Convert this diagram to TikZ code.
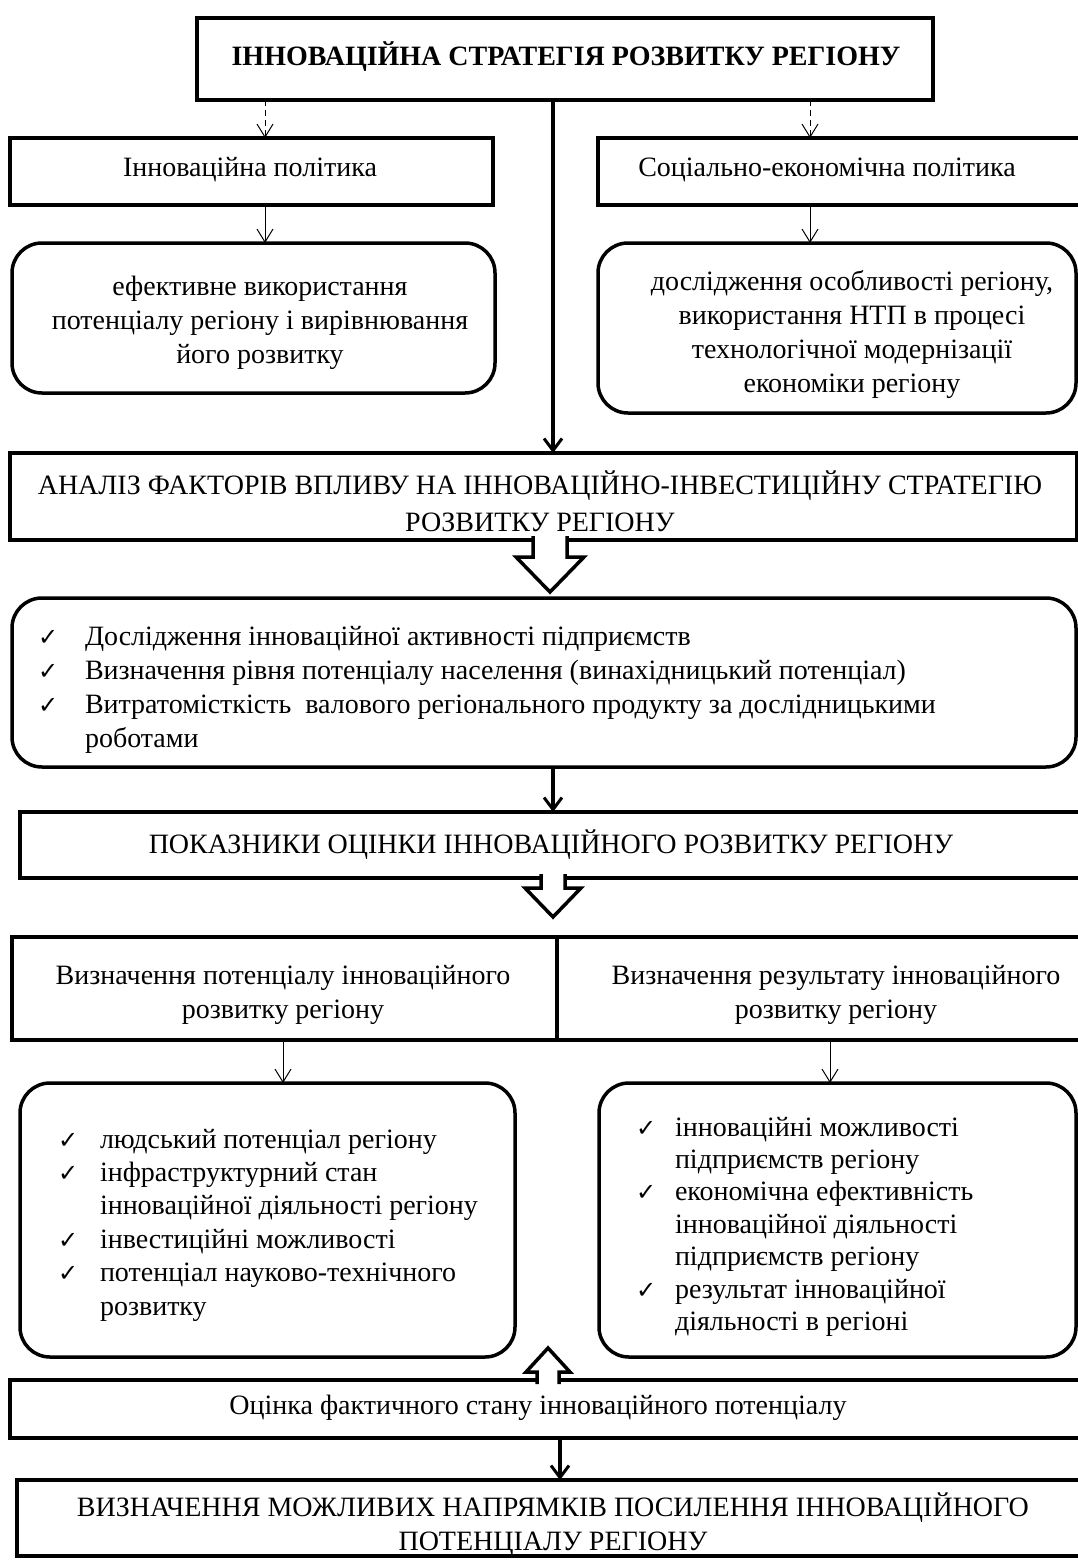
\documentclass[tikz,border=0pt]{standalone}
\usepackage{fontspec}
\setmainfont{Liberation Serif}
\newfontfamily\symfont{DejaVu Sans}
\usetikzlibrary{arrows.meta,calc}
\newcommand{\ck}{\makebox[0pt][l]{\symfont\fontsize{24}{24}\selectfont ✓}}
\begin{document}
\begin{tikzpicture}[x=1pt,y=-1pt,
  every node/.style={font=\fontsize{28}{34}\selectfont, inner sep=0pt, outer sep=0pt},
  box/.style={draw, line width=3.5pt, rectangle},
  rbox/.style={draw, line width=3.5pt, rectangle, rounded corners=30pt},
  thinarr/.style={line width=1pt, -{Straight Barb[length=13pt,width=16pt,line width=1pt]}},
  dasharr/.style={thinarr, dash pattern=on 6pt off 4pt},
  thickarr/.style={line width=3.5pt, -{Straight Barb[length=12pt,width=18pt,line width=3pt]}},
  hollow/.style={draw, line width=3.5pt, fill=white, line join=miter},
  txt/.style={align=center},
]
\clip (0,0) rectangle (1078,1560);
\fill[white] (0,0) rectangle (1078,1560);

% coordinates for arrow x-positions
\coordinate (xa) at (265,0);
\coordinate (xb) at (810,0);
\coordinate (xc) at (553,0);
\coordinate (xd) at (283,0);
\coordinate (xe) at (830,0);
\coordinate (xf) at (560,0);

% top
\node[box, minimum width=736pt, minimum height=82pt] (top) at (565,59) {};
\node[txt, font=\bfseries\fontsize{28}{34}\selectfont] (toptxt) at (566,57) {ІННОВАЦІЙНА СТРАТЕГІЯ РОЗВИТКУ РЕГІОНУ};

% policies
\node[box, minimum width=483pt, minimum height=67pt] (polL) at (251.5,171.5) {};
\node[txt] (polLtxt) at (250,170) {Інноваційна політика};
\node[box, minimum width=520pt, minimum height=67pt] (polR) at (858,171.5) {};
\node[txt] (polRtxt) at (827,170) {Соціально-економічна політика};

% rounded boxes under policies
\node[rbox, minimum width=483pt, minimum height=150pt] (rL) at (253.5,318) {};
\node[txt] (rLtxt) at (260,323) {ефективне використання\\потенціалу регіону і вирівнювання\\його розвитку};
\node[rbox, minimum width=478pt, minimum height=170pt] (rR) at (837,328) {};
\node[txt] (rRtxt) at (852,334) {дослідження особливості регіону,\\використання НТП в процесі\\технологічної модернізації\\економіки регіону};

% analysis
\node[box, minimum width=1067pt, minimum height=87pt] (anal) at (543.5,496.5) {};
\node[txt, font=\fontsize{28}{37}\selectfont] (analtxt) at (540,501) {АНАЛІЗ ФАКТОРІВ ВПЛИВУ НА ІННОВАЦІЙНО-ІНВЕСТИЦІЙНУ СТРАТЕГІЮ\\РОЗВИТКУ РЕГІОНУ};

% checklist
\node[rbox, minimum width=1064pt, minimum height=169pt] (chk) at (544,682.5) {};
\node[anchor=base west, align=left] (chktxt) at (38,645) {\begin{tabular}[t]{@{}l@{}}
\ck\hspace{47pt}Дослідження інноваційної активності підприємств\\
\ck\hspace{47pt}Визначення рівня потенціалу населення (винахідницький потенціал)\\
\ck\hspace{47pt}Витратомісткість\ \ валового регіонального продукту за дослідницькими\\
\hspace{47pt}роботами
\end{tabular}};

% indicators
\node[box, minimum width=1100pt, minimum height=66pt] (ind) at (570,845) {};
\node[txt] (indtxt) at (551,845) {ПОКАЗНИКИ ОЦІНКИ ІННОВАЦІЙНОГО РОЗВИТКУ РЕГІОНУ};

% split box
\node[box, minimum width=545pt, minimum height=103pt] (spL) at (284.5,988.5) {};
\node[box, minimum width=560pt, minimum height=103pt] (spR) at (837,988.5) {};
\node[txt] (spLtxt) at (283,995) {Визначення потенціалу інноваційного\\розвитку регіону};
\node[txt] (spRtxt) at (836,995) {Визначення результату інноваційного\\розвитку регіону};

% lower rounded boxes
\node[rbox, minimum width=495pt, minimum height=274pt] (lL) at (267.5,1220) {};
\node[rbox, minimum width=477pt, minimum height=274pt] (lR) at (837.5,1220) {};
\node[anchor=base west, align=left, font=\fontsize{28}{33.4}\selectfont] (lLtxt) at (58,1148) {\begin{tabular}[t]{@{}l@{}}
\ck\hspace{42pt}людський потенціал регіону\\
\ck\hspace{42pt}інфраструктурний стан\\
\hspace{42pt}інноваційної діяльності регіону\\
\ck\hspace{42pt}інвестиційні можливості\\
\ck\hspace{42pt}потенціал науково-технічного\\
\hspace{42pt}розвитку
\end{tabular}};
\node[anchor=base west, align=left, font=\fontsize{28}{32.4}\selectfont] (lRtxt) at (636,1136) {\begin{tabular}[t]{@{}l@{}}
\ck\hspace{39pt}інноваційні можливості\\
\hspace{39pt}підприємств регіону\\
\ck\hspace{39pt}економічна ефективність\\
\hspace{39pt}інноваційної діяльності\\
\hspace{39pt}підприємств регіону\\
\ck\hspace{39pt}результат інноваційної\\
\hspace{39pt}діяльності в регіоні
\end{tabular}};

% assessment
\node[box, minimum width=1100pt, minimum height=58pt] (ass) at (560,1409) {};
\node[txt] (asstxt) at (538,1408) {Оцінка фактичного стану інноваційного потенціалу};

% bottom
\node[box, minimum width=1100pt, minimum height=76pt] (bot) at (567,1518) {};
\node[txt] (bottxt) at (553,1525) {ВИЗНАЧЕННЯ МОЖЛИВИХ НАПРЯМКІВ ПОСИЛЕННЯ ІННОВАЦІЙНОГО\\ПОТЕНЦІАЛУ РЕГІОНУ};

% connectors
\draw[dasharr] (top.south -| xa) -- (polL.north -| xa);
\draw[dasharr] (top.south -| xb) -- (polR.north -| xb);
\draw[thinarr] (polL.south -| xa) -- (rL.north -| xa);
\draw[thinarr] (polR.south -| xb) -- (rR.north -| xb);
\draw[thickarr] (top.south -| xc) -- (anal.north -| xc);
\draw[thickarr] (chk.south -| xc) -- (ind.north -| xc);
\draw[thinarr] (spL.south -| xd) -- (lL.north -| xd);
\draw[thinarr] (spR.south -| xe) -- (lR.north -| xe);
\draw[thickarr] (ass.south -| xf) -- (bot.north -| xf);

% hollow block arrows
\coordinate (h1) at (550,0);
\coordinate (h2) at (553,0);
\coordinate (h3) at (548,0);
\draw[hollow] (anal.south -| h1) ++(-17,-4) -- ++(0,21) -- ++(-17,0) -- ++(34,35) -- ++(34,-35) -- ++(-17,0) -- ++(0,-21);
\draw[hollow] (ind.south -| h2) ++(-12,-4) -- ++(0,14) -- ++(-16,0) -- ++(28,29) -- ++(28,-29) -- ++(-16,0) -- ++(0,-14);
\draw[hollow] (ass.north -| h3) ++(-11,4) -- ++(0,-12) -- ++(-11,0) -- ++(22,-24) -- ++(22,24) -- ++(-11,0) -- ++(0,12);
\end{tikzpicture}
\end{document}
